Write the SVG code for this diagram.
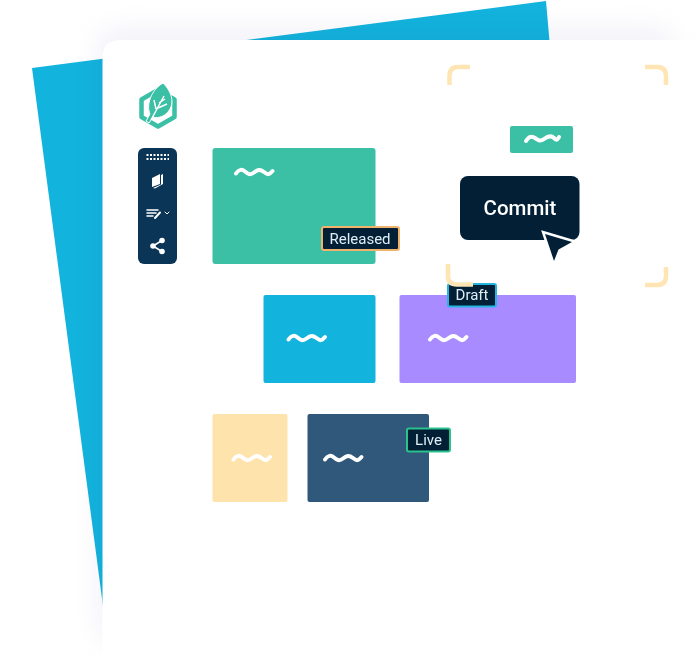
<svg xmlns="http://www.w3.org/2000/svg" width="698" height="657" viewBox="0 0 698 657">
<style>
.wave{fill:none;stroke:#fff;stroke-width:4;stroke-linecap:round;stroke-linejoin:round}
.tag{fill:#021f35;stroke-width:2}
.lbl{font-family:Roboto,"Liberation Sans",sans-serif;font-size:15px;fill:#dfeef6;text-anchor:middle}
.br{fill:none;stroke:#ffe5b4;stroke-width:4.500}
.ic{fill:#fff}
.ics{fill:none;stroke:#fff;stroke-linecap:round;stroke-linejoin:round}
</style>
<defs>
<filter id="sh" x="-20%" y="-20%" width="140%" height="140%"><feGaussianBlur stdDeviation="14"/></filter>
<path id="w" d="M0 3.500C3-1 6-1 9 1.500S14 5.500 18 2.500 24-1 28 2 33 5 36.500 1"/>
</defs>
<rect width="698" height="657" fill="#fff"/>
<polygon points="32,68 546,1 552,70 110,70 103,606" fill="#12b3dc"/>
<rect x="100" y="30" width="572" height="610" rx="14" fill="#e2e2f2" opacity=".5" filter="url(#sh)" style="mix-blend-mode:multiply"/>
<path d="M121 40H698V657H102.500V58Q102.500 40 121 40Z" fill="#fff"/>
<g id="logo">
<path d="M158 90L174.500 99.500V117L158 126.500L141.500 117V99.500Z" fill="none" stroke="#3bbfa5" stroke-width="4.500" stroke-linejoin="round"/>
<path d="M163 83C173 93 175 105 167 113C162 118 156 118 153 117L149 123L146 121L150 114C146 105 151 90 163 83Z" fill="#3bbfa5" stroke="#fff" stroke-width="1"/>
<path d="M151 120L164 96M156 109L154 100M159 103L165 99M158 108L167 104" fill="none" stroke="#fff" stroke-width="1.500"/>
</g>
<g id="toolbar">
<rect x="138" y="148" width="39" height="116" rx="6" fill="#0a3556"/>
<path d="M146.500 155H169M146.500 159H169" fill="none" stroke="#fff" stroke-width="2" stroke-dasharray="2 1.500"/>
<path class="ic" d="M152 178L160 174V184L152 187Z"/>
<path class="ic" d="M161 175L163 174V184L155 188.500L153 188L161 184.500Z"/>
<path class="ics" stroke-width="1.500" d="M147 210H158M147 213H156M147 216H153"/>
<path class="ics" stroke-width="2" d="M155 218L160 212.500"/>
<path class="ics" stroke-width="1" d="M165 212L167 214L169 212"/>
<path class="ics" stroke-width="1.500" d="M162 240.500L153 246L162 251.500"/>
<circle class="ic" cx="162" cy="240.500" r="2.800"/><circle class="ic" cx="153" cy="246" r="2.800"/><circle class="ic" cx="162" cy="251.500" r="2.800"/>
</g>
<g id="node-green">
<rect x="212.500" y="148" width="163" height="116" rx="3" fill="#3bbfa5"/>
<use href="#w" class="wave" x="236" y="170"/>
</g>
<g id="node-blue">
<rect x="263.500" y="295" width="112" height="88" rx="2" fill="#12b3dc"/>
<use href="#w" class="wave" x="288.500" y="336"/>
</g>
<g id="node-purple">
<rect x="399.500" y="295" width="176.500" height="88" rx="2" fill="#a78bff"/>
<use href="#w" class="wave" x="430" y="336"/>
</g>
<g id="node-yellow">
<rect x="212.500" y="414" width="75" height="88" rx="2" fill="#ffe3ac"/>
<use href="#w" class="wave" x="233.500" y="456"/>
</g>
<g id="node-navy">
<rect x="307.500" y="414" width="121.500" height="88" rx="2" fill="#30587b"/>
<use href="#w" class="wave" x="325" y="456"/>
</g>
<g id="tag-draft">
<rect class="tag" x="448" y="284" width="48" height="22.500" rx="2" stroke="#22b5e0"/>
<text class="lbl" x="472" y="300">Draft</text>
</g>
<g id="frame">
<path class="br" d="M449.500 85V76Q449.500 67 458 67H470"/>
<path class="br" d="M645 67H657Q666 67 666 76V85"/>
<path class="br" d="M448 264V276Q448 284.500 457 284.500H473"/>
<path class="br" d="M666 267V276Q666 285 657 285H645"/>
</g>
<g id="chip">
<rect x="510" y="126" width="63" height="27" rx="2" fill="#3bbfa5"/>
<path class="wave" d="M526 141C529 136 532 136 535 138S540 142 544 139 551 135 554 138 557 140 559 137"/>
</g>
<g id="commit">
<rect x="460" y="176" width="119.500" height="64" rx="8" fill="#021f35"/>
<text x="520" y="215" font-family="Roboto,'Liberation Sans',sans-serif" font-size="20.500" font-weight="500" fill="#fff" text-anchor="middle">Commit</text>
</g>
<g id="cursor">
<path d="M545 234L572 242L558.500 249.500L554 261Z" fill="#021f35" stroke="#fff" stroke-width="5" stroke-linejoin="miter" paint-order="stroke"/>
</g>
<g id="tag-released">
<rect class="tag" x="322" y="227" width="77" height="23" rx="2" stroke="#f0b36c"/>
<text class="lbl" x="360" y="244">Released</text>
</g>
<g id="tag-live">
<rect class="tag" x="407" y="428.500" width="43" height="23" rx="2" stroke="#2bc28e"/>
<text class="lbl" x="428.500" y="445">Live</text>
</g>
</svg>
